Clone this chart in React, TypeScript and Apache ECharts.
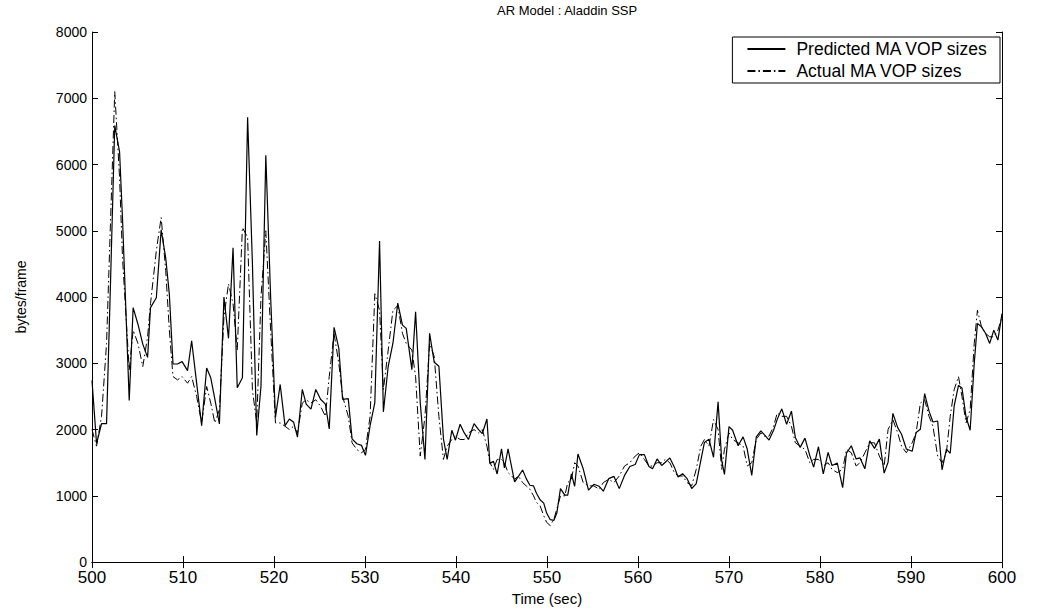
import React, { useEffect, useRef } from "react";
import * as echarts from "echarts";

const chartTitle = "AR Model : Aladdin SSP";
const xAxisTitle = "Time (sec)";
const yAxisTitle = "bytes/frame";
const seriesNames = ["Predicted MA VOP sizes", "Actual MA VOP sizes"];

const timeSec = [
  500.0, 500.5, 501.05, 501.6, 502.05, 502.5, 503.03, 503.35, 504.09, 504.52,
  505.05, 505.58, 506.11, 506.43, 507.07, 507.6, 508.1, 508.5, 508.9, 509.4,
  509.9, 510.5, 510.95, 511.5, 512.05, 512.6, 513.05, 513.5, 514.0, 514.5,
  515.0, 515.5, 515.96, 516.53, 517.1, 517.63, 518.1, 518.57, 519.1, 519.63,
  520.16, 520.68, 521.21, 521.69, 522.16, 522.58, 523.11, 523.54, 524.06, 524.59,
  525.12, 525.65, 526.07, 526.6, 527.12, 527.54, 528.16, 528.58, 529.1, 529.62,
  530.05, 530.56, 531.08, 531.6, 532.02, 532.55, 533.07, 533.6, 534.12, 534.53,
  535.15, 535.56, 536.07, 536.59, 537.1, 537.61, 538.12, 538.62, 539.03, 539.54,
  539.94, 540.45, 540.91, 541.37, 541.98, 542.48, 542.89, 543.4, 543.72, 544.12,
  544.52, 545.0, 545.32, 545.72, 546.12, 546.44, 546.84, 547.32, 547.72, 548.12,
  548.52, 548.84, 549.24, 549.64, 549.96, 550.36, 550.76, 551.08, 551.48, 551.96,
  552.28, 552.68, 553.04, 553.4, 553.98, 554.56, 555.15, 555.73, 556.19, 556.78,
  557.36, 557.94, 558.52, 559.1, 559.69, 560.15, 560.7, 561.2, 561.6, 562.1,
  562.6, 563.0, 563.5, 564.0, 564.4, 564.9, 565.4, 565.9, 566.4, 566.9,
  567.3, 567.8, 568.3, 568.8, 569.2, 569.5, 570.0, 570.4, 571.0, 571.55,
  572.0, 572.5, 573.0, 573.5, 573.9, 574.4, 574.9, 575.3, 575.8, 576.33,
  576.86, 577.29, 577.82, 578.35, 578.88, 579.3, 579.83, 580.36, 580.89, 581.32,
  581.9, 582.49, 582.91, 583.44, 583.97, 584.4, 584.93, 585.46, 585.99, 586.52,
  587.05, 587.48, 588.01, 588.54, 588.96, 589.49, 590.13, 590.56, 591.03, 591.5,
  591.98, 592.41, 592.93, 593.41, 593.89, 594.31, 594.74, 595.22, 595.6, 596.05,
  596.5, 596.95, 597.3, 597.75, 598.2, 598.65, 599.1, 599.55, 600.0,
];

const predictedSize = [
  2740, 1790, 2090, 2090, 4300, 6590, 6190, 5190, 2440, 3840,
  3590, 3290, 3090, 3840, 3990, 5015, 4590, 4040, 2990, 2990,
  3025, 2890, 3340, 2700, 2060, 2930, 2781, 2458, 2085, 3999,
  3377, 4745, 2631, 2781, 6712, 4500, 1911, 2656, 6139, 4000,
  2185, 2681, 2060, 2160, 2110, 1886, 2607, 2383, 2308, 2606,
  2457, 2383, 2010, 3542, 3229, 2457, 2467, 1860, 1786, 1761,
  1612, 2060, 2407, 4846, 2268, 2955, 3303, 3910, 3577, 3527,
  2905, 3776, 2408, 1550, 3453, 3015, 2955, 1861, 1550, 1990,
  1840, 2080, 1950, 1850, 2090, 2000, 1940, 2160, 1490, 1520,
  1330, 1710, 1420, 1710, 1430, 1210, 1290, 1390, 1260, 1160,
  1150, 1040, 940, 890, 740, 640, 630, 740, 1110, 1010,
  1010, 1330, 1144, 1632, 1408, 1085, 1174, 1144, 1070, 1259,
  1293, 1109, 1308, 1443, 1473, 1622, 1622, 1443, 1408, 1557,
  1458, 1507, 1572, 1433, 1284, 1333, 1259, 1109, 1184, 1532,
  1806, 1856, 1582, 2418, 1532, 1323, 2045, 1990, 1756, 1890,
  1706, 1308, 1890, 1980, 1920, 1841, 1990, 2154, 2313, 2080,
  2279, 1881, 1731, 1871, 1607, 1433, 1741, 1333, 1657, 1458,
  1493, 1124, 1642, 1756, 1557, 1572, 1408, 1831, 1716, 1856,
  1343, 1507, 2244, 2030, 1930, 1706, 1672, 1955, 2005, 2542,
  2279, 2114, 2129, 1393, 1706, 1642, 2353, 2667, 2627, 2189,
  1990, 3000, 3600, 3550, 3450, 3300, 3500, 3350, 3750,
];

const actualSize = [
  2000, 1750, 2200, 3300, 5200, 7100, 5800, 4600, 2900, 3500,
  3300, 2950, 3400, 3900, 4700, 5200, 4400, 3500, 2800, 2750,
  2800, 2700, 2800, 2500, 2100, 2650, 2400, 2100, 2300, 3700,
  4200, 3900, 3200, 5050, 4900, 2600, 2100, 4000, 5000, 3500,
  2100, 2100, 2050, 2000, 2050, 1950, 2400, 2450, 2400, 2450,
  2350, 2200, 2800, 3450, 3000, 2500, 2200, 1800, 1700, 1650,
  1700, 2200, 4050, 3800, 2600, 3200, 3800, 3870, 3450, 3300,
  3200, 2800, 1600, 2200, 3300, 3100, 2200, 1550, 1750, 1850,
  1900, 1850, 1850, 1950, 2000, 1950, 2000, 1750, 1500, 1400,
  1550, 1550, 1500, 1350, 1300, 1250, 1300, 1200, 1150, 1100,
  1000, 900, 850, 700, 600, 550, 650, 800, 1000, 1000,
  1200, 1250, 1500, 1450, 1200, 1150, 1150, 1100, 1200, 1250,
  1200, 1300, 1450, 1500, 1600, 1650, 1550, 1450, 1450, 1500,
  1500, 1550, 1500, 1350, 1300, 1300, 1200, 1150, 1400, 1750,
  1850, 1750, 2150, 2000, 1400, 1700, 1950, 1850, 1800, 1750,
  1450, 1500, 1850, 1950, 1900, 1900, 2050, 2250, 2200, 2200,
  2050, 1800, 1750, 1700, 1500, 1550, 1550, 1450, 1500, 1400,
  1350, 1400, 1700, 1650, 1450, 1500, 1650, 1800, 1800, 1600,
  1450, 2000, 2150, 1950, 1750, 1650, 1800, 1950, 2400, 2450,
  2200, 2050, 1600, 1500, 1650, 2200, 2600, 2800, 2500, 2100,
  2300, 3300, 3800, 3550, 3450, 3400, 3400, 3500, 3700,
];

const FONT = "Liberation Sans";

export default function App() {
  const ref = useRef<HTMLDivElement>(null);

  useEffect(() => {
    if (!ref.current) return;
    const chart = echarts.init(ref.current, undefined, { renderer: "svg" });
    const axisCommon = {
      type: "value" as const,
      splitLine: { show: false },
      axisLine: { show: true, lineStyle: { color: "#000", width: 1 } },
      axisTick: { show: true, inside: true, length: 6, lineStyle: { color: "#000" } },
    };
    chart.setOption({
      animation: false,
      backgroundColor: "#fff",
      graphic: [
        {
          type: "text",
          left: 497,
          top: 4,
          style: { text: chartTitle, font: `13px '${FONT}'`, fill: "#000" },
        },
      ],
      legend: {
        orient: "vertical",
        right: 62,
        top: 37,
        itemWidth: 38,
        itemHeight: 14,
        itemGap: 4,
        padding: [3, 12, 3, 14],
        borderColor: "#000",
        borderWidth: 1,
        borderRadius: 0,
        backgroundColor: "#fff",
        itemStyle: { opacity: 0 },
        textStyle: { fontFamily: FONT, fontSize: 17.5, color: "#000", padding: [0, 0, 0, 6] },
        data: seriesNames,
      },
      grid: { left: 92, right: 60, top: 32, bottom: 43 },
      xAxis: [
        {
          ...axisCommon,
          position: "bottom",
          min: 500,
          max: 600,
          interval: 10,
          name: xAxisTitle,
          nameLocation: "middle",
          nameGap: 25,
          nameTextStyle: { fontFamily: FONT, fontSize: 15, color: "#000" },
          axisLabel: { color: "#000", fontFamily: FONT, fontSize: 17, margin: 7 },
        },
        {
          ...axisCommon,
          position: "top",
          min: 500,
          max: 600,
          interval: 10,
          axisLabel: { show: false },
        },
      ],
      yAxis: [
        {
          ...axisCommon,
          position: "left",
          min: 0,
          max: 8000,
          interval: 1000,
          name: yAxisTitle,
          nameLocation: "middle",
          nameGap: 64,
          nameTextStyle: { fontFamily: FONT, fontSize: 14, color: "#000" },
          axisLabel: {
            color: "#000",
            fontFamily: FONT,
            fontSize: 14,
            margin: 5,
            formatter: (v: number) => String(v),
          },
        },
        {
          ...axisCommon,
          position: "right",
          min: 0,
          max: 8000,
          interval: 1000,
          axisLabel: { show: false },
        },
      ],
      series: [
        {
          name: seriesNames[0],
          type: "line",
          symbol: "none",
          xAxisIndex: 0,
          yAxisIndex: 0,
          lineStyle: { color: "#000", width: 1.2, type: "solid" },
          itemStyle: { color: "#000" },
          data: timeSec.map((t, i) => [t, predictedSize[i]]),
        },
        {
          name: seriesNames[1],
          type: "line",
          symbol: "none",
          xAxisIndex: 0,
          yAxisIndex: 0,
          lineStyle: { color: "#000", width: 1, type: [8, 3, 1.5, 3] },
          itemStyle: { color: "#000" },
          data: timeSec.map((t, i) => [t, actualSize[i]]),
        },
      ],
    });
    return () => chart.dispose();
  }, []);

  return (
    <div
      ref={ref}
      style={{ position: "absolute", left: 0, top: 0, width: 1062, height: 611, background: "#fff" }}
    />
  );
}
